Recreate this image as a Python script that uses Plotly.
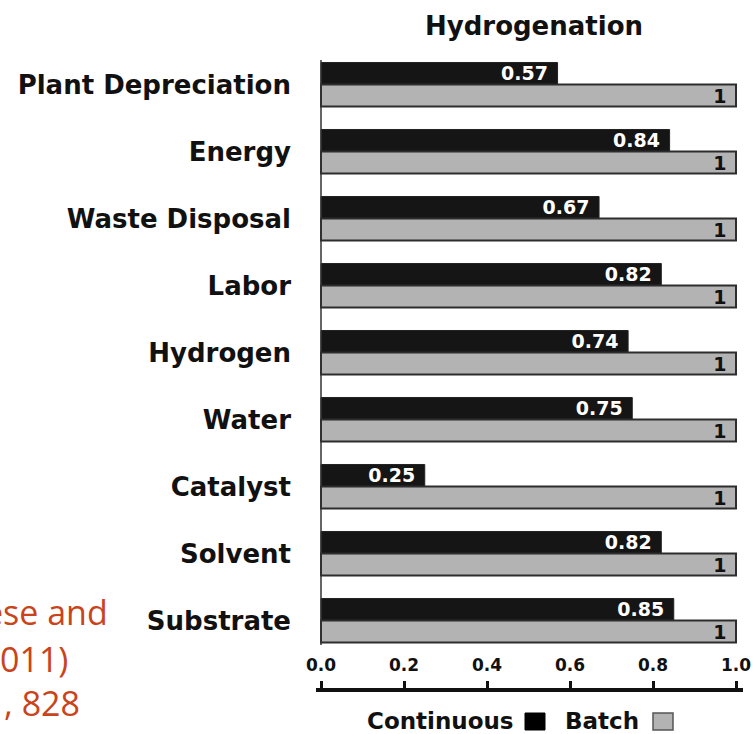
import plotly.graph_objects as go

# ---- data ----
categories = ["Plant Depreciation", "Energy", "Waste Disposal", "Labor",
              "Hydrogen", "Water", "Catalyst", "Solvent", "Substrate"]
continuous = [0.57, 0.84, 0.67, 0.82, 0.74, 0.75, 0.25, 0.82, 0.85]
batch = [1, 1, 1, 1, 1, 1, 1, 1, 1]
x_ticks = [0.0, 0.2, 0.4, 0.6, 0.8, 1.0]
title_text = "Hydrogenation"
legend_labels = ["Continuous", "Batch"]
citation_lines = ["ese and", "011)", ", 828"]

# ---- geometry helpers ----
W, H = 754, 734
L, R, T, B = 316, 11, 51, 44
PW, PH = W - L - R, H - T - B


def px(x):
    return (x - L) / PW


def py(y):
    return (H - B - y) / PH


BOLD = "DejaVu Sans"
cont_color = "#151515"
batch_color = "#b3b3b3"

fig = go.Figure()
fig.add_trace(go.Bar(
    y=categories, x=continuous, orientation="h", name=legend_labels[0],
    marker=dict(color=cont_color, line=dict(color="#222222", width=1)),
    text=[f"{v:.2f}\u00a0" for v in continuous],
    texttemplate="%{text}", textposition="inside", insidetextanchor="end",
    constraintext="none", textangle=0,
    insidetextfont=dict(family=BOLD, size=19, color="white", weight="bold"),
    hoverinfo="x+y",
))
fig.add_trace(go.Bar(
    y=categories, x=batch, orientation="h", name=legend_labels[1],
    marker=dict(color=batch_color, line=dict(color="#2d2d2d", width=2)),
    text=[f"{v:g}\u00a0" for v in batch],
    texttemplate="%{text}", textposition="inside", insidetextanchor="end",
    constraintext="none", textangle=0,
    insidetextfont=dict(family=BOLD, size=19, color="#111111", weight="bold"),
    hoverinfo="x+y",
))

unit = 415.0
x_lo = -(321 - L) / unit
x_hi = (W - R - 321) / unit

annotations = []
# legend (text followed by swatch)
annotations.append(dict(text=legend_labels[0], xref="paper", yref="paper",
                        x=px(516), y=py(721), xanchor="right", yanchor="middle",
                        showarrow=False,
                        font=dict(family=BOLD, size=23, color="#111111", weight="bold")))
annotations.append(dict(text=legend_labels[1], xref="paper", yref="paper",
                        x=px(641), y=py(721), xanchor="right", yanchor="middle",
                        showarrow=False,
                        font=dict(family=BOLD, size=23, color="#111111", weight="bold")))
# cut-off citation text on the left
cit_right = [110, 70, 82]
cit_mid = [612, 659, 703]
for txt, xr, ym in zip(citation_lines, cit_right, cit_mid):
    annotations.append(dict(text=txt, xref="paper", yref="paper",
                            x=px(xr), y=py(ym), xanchor="right", yanchor="middle",
                            showarrow=False,
                            font=dict(family="Open Sans", size=34, color="#c9441b")))

shapes = [
    # vertical baseline of the bars
    dict(type="line", xref="x", yref="y domain", x0=0, x1=0, y0=0.015, y1=0.985,
         line=dict(color="#333333", width=1.5)),
    # legend swatches
    dict(type="rect", xref="paper", yref="paper", x0=px(525), x1=px(545),
         y0=py(730), y1=py(713), fillcolor="#000000", line=dict(color="#000000", width=1)),
    dict(type="rect", xref="paper", yref="paper", x0=px(653), x1=px(673),
         y0=py(730), y1=py(713), fillcolor=batch_color, line=dict(color="#555555", width=1.5)),
]

fig.update_layout(
    width=W, height=H,
    margin=dict(l=L, r=R, t=T, b=B, pad=0, autoexpand=False),
    paper_bgcolor="white", plot_bgcolor="white",
    barmode="group", bargap=0.343, bargroupgap=0,
    showlegend=False,
    title=dict(text=title_text, x=px(534), xref="paper", xanchor="center",
               y=1 - 26 / H, yanchor="middle", automargin=False,
               font=dict(family=BOLD, size=26, color="#111111", weight="bold")),
    xaxis=dict(range=[x_lo, x_hi], anchor="free", position=0, side="top",
               tickvals=x_ticks, ticktext=[f"{v:.1f}" for v in x_ticks],
               ticks="outside", ticklen=7, tickwidth=3, tickcolor="#111111",
               showline=True, linewidth=3.5, linecolor="#111111",
               showgrid=False, zeroline=False, ticklabelstandoff=3,
               automargin=False,
               tickfont=dict(family=BOLD, size=17, color="#111111", weight="bold")),
    yaxis=dict(type="category", categoryorder="array", categoryarray=categories,
               autorange="reversed", domain=[py(654), 1],
               showgrid=False, zeroline=False, showline=False, ticks="",
               ticklabelstandoff=24, automargin=False,
               tickfont=dict(family=BOLD, size=26, color="#111111", weight="bold")),
    annotations=annotations,
    shapes=shapes,
)

fig.write_html("out.html", config={"displayModeBar": False},
               post_script="document.body.style.margin='0';document.body.style.overflow='hidden';")
